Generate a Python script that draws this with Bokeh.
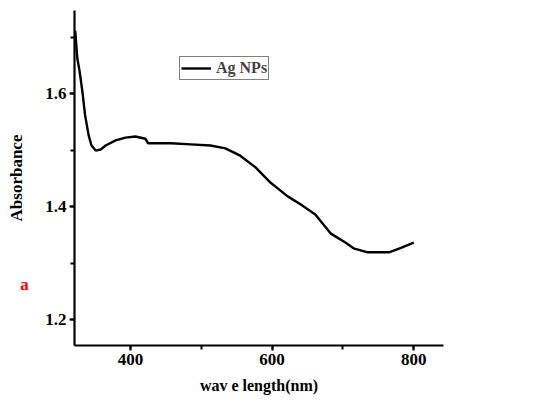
from bokeh.plotting import figure
from bokeh.models import Legend, LegendItem, Label, SingleIntervalTicker, Range1d
from bokeh.embed import file_html
from bokeh.resources import INLINE

wavelength = [322, 325, 328, 332, 336, 341, 345, 351, 358, 365, 379, 393, 407, 421, 425,
              457, 485, 513, 534, 555, 577, 598, 622, 640, 661, 683, 704, 715, 735, 765, 782, 800]
absorbance = [1.711, 1.662, 1.641, 1.605, 1.561, 1.526, 1.508, 1.499, 1.501, 1.508, 1.517,
              1.522, 1.524, 1.520, 1.512, 1.512, 1.510, 1.508, 1.503, 1.490, 1.469, 1.442,
              1.418, 1.404, 1.386, 1.352, 1.336, 1.326, 1.319, 1.319, 1.327, 1.336]
series_name = "Ag NPs"
x_label = "wav e length(nm)"
y_label = "Absorbance"
panel_tag = "a"

FONT = "Liberation Serif"

p = figure(width=468, height=400, output_backend="svg", toolbar_location=None,
           x_range=Range1d(321, 842), y_range=Range1d(1.154, 1.747),
           min_border_left=74, min_border_top=10, min_border_right=25, min_border_bottom=55)
p.outline_line_color = None
p.grid.visible = False
p.background_fill_color = "white"

r = p.line(wavelength, absorbance, line_color="black", line_width=2.4)

for ax, tick in ((p.xaxis[0], SingleIntervalTicker(interval=200, num_minor_ticks=2)),
                 (p.yaxis[0], SingleIntervalTicker(interval=0.2, num_minor_ticks=2))):
    ax.ticker = tick
    ax.axis_line_width = 2.2
    ax.major_tick_line_width = 2
    ax.minor_tick_line_width = 2
    ax.major_tick_in = 0
    ax.major_tick_out = 5
    ax.minor_tick_in = 0
    ax.minor_tick_out = 4
    ax.major_label_text_font = FONT
    ax.major_label_text_font_size = "17px"
    ax.major_label_text_font_style = "bold"
    ax.major_label_text_color = "black"
    ax.axis_label_text_font = FONT
    ax.axis_label_text_font_style = "bold"
    ax.axis_label_text_color = "black"

p.xaxis.axis_label = x_label
p.yaxis.axis_label = y_label
p.xaxis.axis_label_text_font_size = "16px"
p.yaxis.axis_label_text_font_size = "17px"
p.xaxis.major_label_standoff = 3
p.yaxis.major_label_standoff = 3
p.xaxis.axis_label_standoff = 9
p.yaxis.axis_label_standoff = 16

legend = Legend(items=[LegendItem(label=series_name, renderers=[r])],
                location=(105, 265), padding=1, margin=0, spacing=0,
                glyph_width=30, glyph_height=20, label_standoff=5,
                label_text_font=FONT, label_text_font_size="16px",
                label_text_font_style="bold", label_height=20,
                border_line_color="black", border_line_width=1.5,
                background_fill_alpha=1)
p.add_layout(legend, "center")

p.add_layout(Label(x=24, y=284, x_units="canvas", y_units="canvas", text=panel_tag,
                   text_align="center", text_baseline="middle",
                   text_color="red", text_font=FONT, text_font_style="bold",
                   text_font_size="17px"), "right")

open("out.html", "w").write(file_html(p, INLINE))
